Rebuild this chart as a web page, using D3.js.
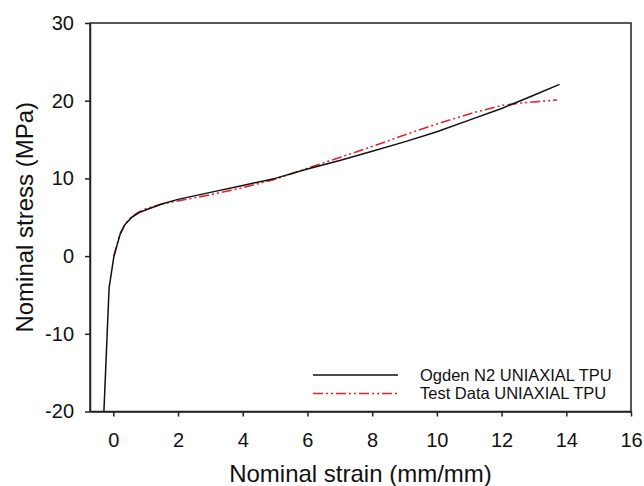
<!DOCTYPE html>
<html><head><meta charset="utf-8">
<script src="https://cdn.jsdelivr.net/npm/d3@7"></script>
<style>
html,body{margin:0;padding:0;background:#fff;}
svg{display:block;font-family:"Liberation Sans",Arial,sans-serif;}
</style></head>
<body><svg id="c" width="644" height="486"></svg>
<script>
// Data
const ogdenStrain = [-0.29, -0.13, 0.02, 0.21, 0.35, 0.57, 0.8, 1.04, 1.5, 2.0, 2.5, 3.0, 4.0, 5.0, 6.0, 7.0, 8.0, 9.0, 10.0, 11.0, 12.0, 12.94, 13.79];
const ogdenStress = [-20, -4.1, 0, 2.8, 4.0, 5.0, 5.6, 6.0, 6.7, 7.3, 7.75, 8.2, 9.1, 10.0, 11.2, 12.3, 13.5, 14.7, 16.0, 17.5, 19.0, 20.6, 22.1];
const testStrain = [0.02, 0.2, 0.35, 0.5, 0.75, 1.0, 1.5, 2.0, 3.0, 4.0, 5.0, 6.0, 7.0, 8.0, 9.0, 10.0, 11.0, 12.0, 12.6, 13.72];
const testStress = [0, 2.8, 4.0, 4.8, 5.6, 6.1, 6.7, 7.1, 7.9, 8.8, 9.9, 11.3, 12.7, 14.1, 15.6, 17.0, 18.3, 19.4, 19.7, 20.1];
const xTicks = [0, 2, 4, 6, 8, 10, 12, 14, 16];
const yTicks = [-20, -10, 0, 10, 20, 30];
const seriesNames = ["Ogden N2 UNIAXIAL TPU", "Test Data UNIAXIAL TPU"];

const svg = d3.select("#c");
const L = 90, R = 631, T = 23, B = 411.5;
const x = d3.scaleLinear().domain([-0.72, 16]).range([L, R]);
const y = d3.scaleLinear().domain([-20, 30]).range([B, T]);
const axisColor = "#222";
const fmt = d => String(d);

// frame
svg.append("rect").attr("x", L).attr("y", T).attr("width", R - L).attr("height", B - T)
  .attr("fill", "none").attr("stroke", axisColor).attr("stroke-width", 1.5);

const xa = svg.append("g").attr("transform", `translate(0,${B})`)
  .call(d3.axisBottom(x).tickValues(xTicks).tickFormat(fmt).tickSize(5).tickSizeOuter(0).tickPadding(16));
const ya = svg.append("g").attr("transform", `translate(${L},0)`)
  .call(d3.axisLeft(y).tickValues(yTicks).tickFormat(fmt).tickSize(5).tickSizeOuter(0).tickPadding(11));
[xa, ya].forEach(a => {
  a.select(".domain").attr("stroke", axisColor).attr("stroke-width", 1.5);
  a.selectAll(".tick line").attr("stroke", axisColor).attr("stroke-width", 1.5);
  a.selectAll(".tick text").attr("fill", "#111").style("font-size", "20px")
   .style("font-family", "'Liberation Sans',Arial,sans-serif");
});

const ogden = ogdenStrain.map((v, i) => [v, ogdenStress[i]]);
const test = testStrain.map((v, i) => [v, testStress[i]]);
const lineFn = d3.line().x(d => x(d[0])).y(d => y(d[1])).curve(d3.curveLinear);

svg.append("path").datum(test).attr("d", lineFn).attr("fill", "none")
  .attr("stroke", "#e3242b").attr("stroke-width", 1.6).attr("stroke-dasharray", "10,3,2,3,2,3");
svg.append("path").datum(ogden).attr("d", lineFn).attr("fill", "none")
  .attr("stroke", "#111").attr("stroke-width", 1.5).attr("stroke-linejoin", "round");

// axis titles
svg.append("text").attr("x", (L + R) / 2).attr("y", 482).attr("text-anchor", "middle")
  .style("font-size", "24px").attr("fill", "#111").text("Nominal strain (mm/mm)");
svg.append("text").attr("transform", `translate(33,${(T + B) / 2}) rotate(-90)`).attr("text-anchor", "middle")
  .style("font-size", "24px").attr("fill", "#111").text("Nominal stress (MPa)");

// legend
const lg = svg.append("g");
const legY = [375, 393.5];
lg.append("line").attr("x1", 313).attr("x2", 398).attr("y1", legY[0]).attr("y2", legY[0])
  .attr("stroke", "#111").attr("stroke-width", 1.5);
lg.append("line").attr("x1", 313).attr("x2", 398).attr("y1", legY[1]).attr("y2", legY[1])
  .attr("stroke", "#e3242b").attr("stroke-width", 1.6).attr("stroke-dasharray", "10,3,2,3,2,3");
seriesNames.forEach((n, i) => {
  lg.append("text").attr("x", 420).attr("y", legY[i] + 5.5).style("font-size", "16.5px")
    .attr("fill", "#111").text(n);
});
</script></body></html>
